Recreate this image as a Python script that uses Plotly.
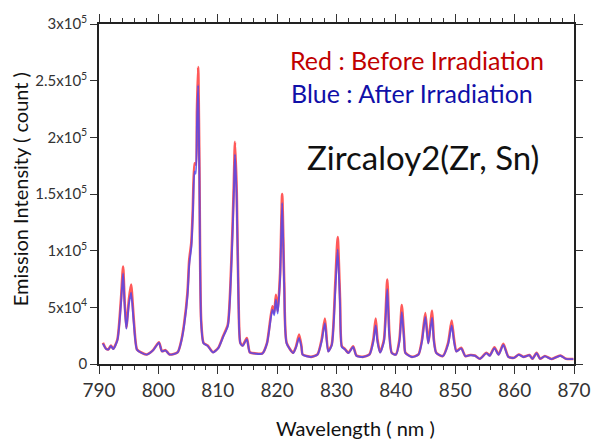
import plotly.graph_objects as go

# Wavelength (nm) sample positions
wavelength = [790.66, 791.2, 791.6, 792.0, 792.4, 793.1, 793.7, 794.06, 794.3, 794.6,
              795.04, 795.4, 795.86, 796.4, 797.2, 798.05, 799.1, 800.1, 800.6, 801.2,
              801.9, 803.25, 803.9, 804.35, 804.9, 805.2, 805.55, 805.8, 806.1, 806.3,
              806.5, 806.7, 806.9, 807.2, 807.6, 808.3, 809.2, 810.1, 810.9, 811.7,
              812.3, 812.7, 812.9, 813.2, 813.5, 813.8, 814.2, 814.9, 815.4, 816.4,
              817.5, 818.3, 818.6, 819.2, 819.5, 819.8, 820.1, 820.5, 820.85, 821.2,
              821.6, 822.7, 823.2, 823.7, 824.1, 824.3, 825.7, 826.8, 827.5, 828.05,
              828.6, 829.2, 829.8, 830.2, 830.6, 830.9, 831.4, 832.0, 832.8, 833.35,
              834.45, 835.55, 836.2, 836.6, 836.9, 837.35, 838.0, 838.55, 838.9, 839.3,
              840.0, 840.6, 841.0, 841.4, 841.6, 842.7, 843.8, 844.4, 844.96, 845.45,
              846.1, 846.4, 846.8, 847.9, 848.8, 849.4, 849.8, 850.2, 851.0, 851.7,
              852.5, 853.3, 854.15, 855.25, 855.8, 856.6, 857.3, 858.1, 858.95, 859.9,
              860.7, 861.5, 862.5, 863.0, 863.7, 864.3, 865.1, 866.2, 867.7, 868.65,
              869.9]

# Red: before irradiation (counts)
before = [18700, 13400, 13000, 16300, 13400, 21600, 57000, 86000, 57000, 32000,
          57000, 70000, 39000, 12800, 9900, 8400, 12200, 19200, 11300, 12200,
          8400, 10400, 21600, 36000, 63000, 92000, 107000, 136000, 177000, 176000,
          224000, 262000, 180000, 39000, 18700, 16300, 10400, 14300, 24500, 34800,
          92000, 157000, 196000, 151000, 57000, 18700, 16300, 23000, 10400, 9300,
          9300, 18700, 29000, 51000, 45000, 61000, 46600, 80000, 150000, 71600,
          18700, 9900, 15700, 26000, 15700, 8400, 6300, 8400, 21600, 40000,
          11300, 17200, 71600, 112000, 57000, 15700, 13400, 9900, 15700, 7500,
          6300, 8400, 21600, 40000, 21600, 10400, 21600, 74500, 27500, 9900,
          8400, 21600, 52000, 21600, 9900, 6300, 8400, 21600, 45000, 18700,
          47000, 21600, 9900, 7000, 18700, 38400, 21600, 11300, 14300, 7000,
          7900, 7500, 4600, 9900, 7500, 14800, 8400, 17800, 6300, 5500,
          8400, 6300, 7900, 4600, 9900, 4600, 7000, 4400, 7500, 4600,
          4400]

# Blue: after irradiation (counts)
after = [18000, 13200, 12800, 16000, 13200, 21000, 53000, 80000, 54000, 31000,
         53000, 63000, 36000, 12500, 9700, 8300, 12000, 18800, 11100, 12000,
         8300, 10200, 21000, 34500, 60000, 88000, 103000, 131000, 170000, 168000,
         212000, 246000, 172000, 37000, 18300, 16000, 10200, 14000, 23800, 33500,
         87000, 149000, 185000, 144000, 54000, 18300, 16000, 22000, 10200, 9100,
         9100, 18200, 27500, 48000, 43000, 57000, 44500, 76000, 142000, 67000,
         18200, 9700, 15000, 23000, 15000, 8200, 6200, 8200, 20000, 36000,
         11000, 16500, 65000, 101000, 52000, 15000, 13000, 9700, 15000, 7300,
         6200, 8200, 19500, 34000, 19500, 10100, 20000, 66000, 25000, 9700,
         8200, 20000, 45700, 20000, 9700, 6200, 8200, 20000, 41600, 18000,
         40900, 20000, 9700, 6900, 17500, 34000, 19500, 11000, 13800, 6900,
         7700, 7300, 4500, 9600, 7300, 14000, 8200, 16800, 6200, 5400,
         8200, 6200, 7700, 4500, 9600, 4500, 6900, 4300, 7300, 4500,
         4300]

y_tickvals = [0, 50000, 100000, 150000, 200000, 250000, 300000]
y_ticktext = ["0", "5x10<sup>4</sup>", "1x10<sup>5</sup>", "1.5x10<sup>5</sup>",
              "2x10<sup>5</sup>", "2.5x10<sup>5</sup>", "3x10<sup>5</sup>"]
x_tickvals = [790, 800, 810, 820, 830, 840, 850, 860, 870]

FONT = "Lato, 'Open Sans', sans-serif"

fig = go.Figure()
fig.add_trace(go.Scatter(x=wavelength, y=before, mode="lines",
                         line=dict(color="rgba(255,60,60,0.85)", width=2.6, shape="spline", smoothing=0.6),
                         showlegend=False, name="Before"))
fig.add_trace(go.Scatter(x=wavelength, y=after, mode="lines",
                         line=dict(color="rgba(70,70,245,0.8)", width=1.9, shape="spline", smoothing=0.6),
                         showlegend=False, name="After"))

W, H = 603, 439
L, R, T, B = 99, 16, 24, 75
pw, ph = W - L - R, H - T - B

def px(xp):
    return (xp - L) / pw

def py(yp):
    return (H - B - yp) / ph

fig.update_layout(
    width=W, height=H,
    margin=dict(l=L, r=R, t=T, b=B, pad=0),
    paper_bgcolor="white", plot_bgcolor="white",
    font=dict(family=FONT, color="#333333"),
    xaxis=dict(range=[790, 870], tickvals=x_tickvals, ticks="outside", ticklen=8,
               tickwidth=1.3, tickcolor="#333", showline=True, linecolor="#222",
               linewidth=1.6, mirror="ticks", showgrid=False, zeroline=False,
               tickfont=dict(size=19, color="#333", family=FONT),
               minor=dict(dtick=2, ticks="outside", ticklen=4, tickwidth=1, tickcolor="#333")),
    yaxis=dict(range=[0, 300000], tickvals=y_tickvals, ticktext=y_ticktext,
               ticks="outside", ticklen=7, tickwidth=1.3, tickcolor="#333",
               showline=True, linecolor="#222", linewidth=1.6, mirror="ticks",
               showgrid=False, zeroline=False,
               tickfont=dict(size=15, color="#333", family=FONT)),
    annotations=[
        dict(text="Red : Before Irradiation", xref="paper", yref="paper",
             x=px(426), y=py(60), showarrow=False, xanchor="center", yanchor="middle",
             font=dict(size=25, color="#C00000", family=FONT)),
        dict(text="Blue : After Irradiation", xref="paper", yref="paper",
             x=px(421), y=py(93), showarrow=False, xanchor="center", yanchor="middle",
             font=dict(size=25, color="#1010A8", family=FONT)),
        dict(text="Zircaloy2(Zr, Sn)", xref="paper", yref="paper",
             x=px(432), y=py(157), showarrow=False, xanchor="center", yanchor="middle",
             font=dict(size=33, color="#111111", family=FONT)),
        dict(text="Wavelength ( nm )", xref="paper", yref="paper",
             x=px(363), y=py(428), showarrow=False, xanchor="center", yanchor="middle",
             font=dict(size=20, color="#111111", family=FONT)),
        dict(text="Emission Intensity ( count )", xref="paper", yref="paper",
             x=px(18), y=py(189), showarrow=False, xanchor="center", yanchor="middle",
             textangle=-90, font=dict(size=20, color="#111111", family=FONT)),
    ],
)

fig.write_html("out.html")
